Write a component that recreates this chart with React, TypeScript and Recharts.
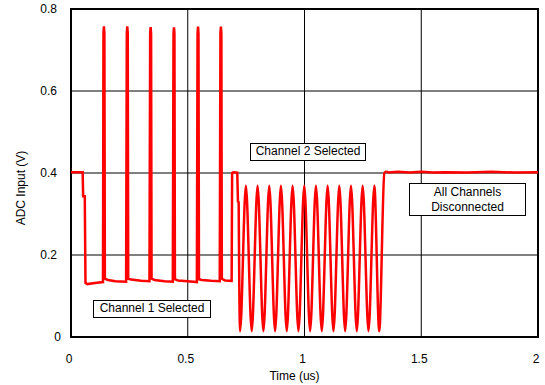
import { LineChart, Line, XAxis, YAxis, CartesianGrid, ReferenceArea, Label } from 'recharts'

const FONT = '"Liberation Sans", Arial, sans-serif'
const RED = '#ff0000'

// Channel 1 selected: idle level, then 6 narrow spikes on a ~0.135 V floor
const CH1_TIME = [
  0, 0.05, 0.052, 0.059, 0.062, 0.07, 0.095, 0.12, 0.137,
  0.139, 0.141, 0.143, 0.145, 0.158, 0.19, 0.236,
  0.239, 0.241, 0.243, 0.245, 0.258, 0.3, 0.336,
  0.339, 0.341, 0.343, 0.345, 0.358, 0.4, 0.436,
  0.439, 0.441, 0.443, 0.445, 0.458, 0.5, 0.539,
  0.542, 0.544, 0.546, 0.548, 0.56, 0.6, 0.637,
  0.640, 0.642, 0.644, 0.646, 0.66, 0.688,
  0.690, 0.695, 0.712, 0.715, 0.718,
]
const CH1_ADC = [
  0.402, 0.402, 0.343, 0.343, 0.132, 0.129, 0.131, 0.133, 0.134,
  0.74, 0.758, 0.74, 0.142, 0.139, 0.136, 0.135,
  0.74, 0.758, 0.74, 0.142, 0.14, 0.137, 0.136,
  0.74, 0.756, 0.74, 0.142, 0.139, 0.136, 0.135,
  0.74, 0.755, 0.74, 0.141, 0.138, 0.136, 0.134,
  0.74, 0.757, 0.74, 0.141, 0.139, 0.137, 0.136,
  0.74, 0.757, 0.74, 0.142, 0.138, 0.137,
  0.4, 0.402, 0.401, 0.331, 0.331,
]

// Channel 2 selected: sine burst
const CH2_TIME = [
  0.718, 0.724, 0.749, 0.774, 0.799, 0.824, 0.849, 0.874, 0.899, 0.924,
  0.949, 0.974, 0.999, 1.024, 1.049, 1.074, 1.099, 1.124, 1.149, 1.174,
  1.199, 1.224, 1.249, 1.274, 1.299, 1.32, 1.342, 1.35,
]
const CH2_ADC = [
  0.331, 0.014, 0.369, 0.014, 0.369, 0.014, 0.369, 0.014, 0.369, 0.014,
  0.369, 0.014, 0.369, 0.014, 0.369, 0.014, 0.369, 0.014, 0.369, 0.014,
  0.369, 0.014, 0.369, 0.014, 0.369, 0.014, 0.4, 0.404,
]

// All channels disconnected
const IDLE_TIME = [1.35, 1.36, 1.4, 1.45, 1.5, 1.55, 1.6, 1.7, 1.8, 1.9, 2]
const IDLE_ADC = [0.404, 0.401, 0.403, 0.401, 0.403, 0.401, 0.402, 0.401, 0.403, 0.401, 0.402]

const X_TICKS = [0, 0.5, 1, 1.5, 2]
const Y_TICKS = [0, 0.2, 0.4, 0.6, 0.8]

const zip = (ts: number[], vs: number[]) => ts.map((t, i) => ({ t, v: vs[i] }))
const ch1Data = zip(CH1_TIME, CH1_ADC)
const ch2Data = zip(CH2_TIME, CH2_ADC)
const idleData = zip(IDLE_TIME, IDLE_ADC)

const textStyle = { fill: '#000', fontSize: 12, fontFamily: FONT }

function XTick({ x, y, payload }: any) {
  return (
    <text x={x - 2} y={y} dy="0.71em" textAnchor="middle" {...textStyle}>
      {payload.value}
    </text>
  )
}

function YTick({ x, y, payload }: any) {
  // the bare "0" sits a little further right than the decimal labels
  return (
    <text x={payload.value === 0 ? x + 4 : x} y={y} dy="0.355em" textAnchor="end" {...textStyle}>
      {payload.value}
    </text>
  )
}

const boxStyle: React.CSSProperties = {
  position: 'absolute',
  boxSizing: 'border-box',
  border: '1px solid #000',
  background: '#fff',
  fontSize: 12,
  lineHeight: '15px',
  textAlign: 'center',
  color: '#000',
}

export default function App() {
  return (
    <div style={{ position: 'absolute', left: 0, top: 0, width: 545, height: 385, fontFamily: FONT, background: '#fff' }}>
      <LineChart width={545} height={385} margin={{ top: 9, right: 7, bottom: 0, left: 0 }}>
        <CartesianGrid stroke="#000" strokeWidth={1} />
        <XAxis
          dataKey="t"
          type="number"
          domain={[0, 2]}
          ticks={X_TICKS}
          height={48}
          tickLine={false}
          axisLine={false}
          tickSize={0}
          tickMargin={17}
          tick={<XTick />}
        >
          <Label value="Time (us)" position="insideBottom" offset={5} dx={-10} style={textStyle} />
        </XAxis>
        <YAxis
          type="number"
          domain={[0, 0.8]}
          ticks={Y_TICKS}
          width={71}
          tickLine={false}
          axisLine={false}
          tickSize={0}
          tickMargin={14}
          tick={<YTick />}
        >
          <Label value="ADC Input (V)" angle={-90} position="center" dx={-15} dy={15} style={textStyle} />
        </YAxis>
        <ReferenceArea x1={0} x2={2} y1={0} y2={0.8} fill="none" fillOpacity={0} stroke="#000" strokeWidth={2} />
        <Line data={ch1Data} dataKey="v" type="linear" stroke={RED} strokeWidth={2.5} dot={false} isAnimationActive={false} />
        <Line data={ch2Data} dataKey="v" type="monotone" stroke={RED} strokeWidth={2.5} dot={false} isAnimationActive={false} />
        <Line data={idleData} dataKey="v" type="linear" stroke={RED} strokeWidth={2.5} dot={false} isAnimationActive={false} />
      </LineChart>
      <div style={{ ...boxStyle, left: 93, top: 300, width: 118, height: 18 }}>Channel 1 Selected</div>
      <div style={{ ...boxStyle, left: 250, top: 143, width: 116, height: 18 }}>Channel 2 Selected</div>
      <div style={{ ...boxStyle, left: 409, top: 183, width: 117, height: 33, paddingTop: 1 }}>
        All Channels
        <br />
        Disconnected
      </div>
    </div>
  )
}
